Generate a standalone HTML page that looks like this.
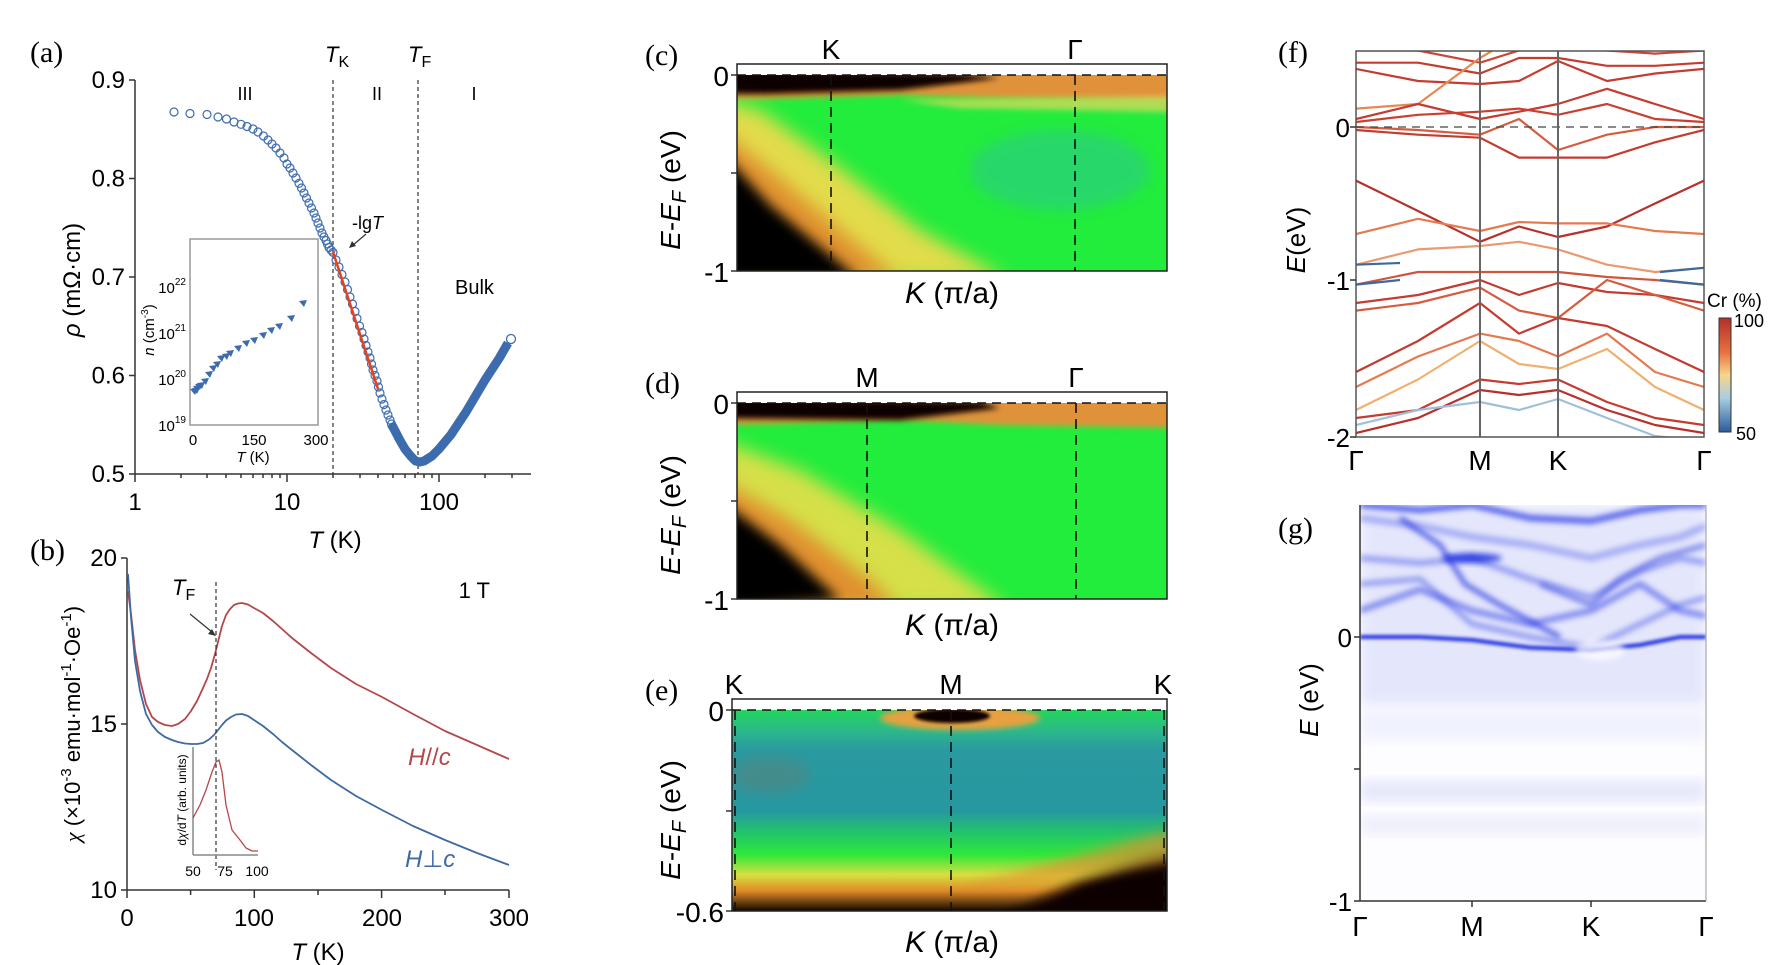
<!DOCTYPE html>
<html><head><meta charset="utf-8"><style>
html,body{margin:0;padding:0;background:#fff}
svg{display:block;font-family:"Liberation Sans",sans-serif}
.lab{font-family:"Liberation Serif",serif;font-size:30px}
.ax line{stroke:#333;stroke-width:1.5}
.bd polyline{fill:none;stroke-width:2.2;stroke-linejoin:round}
.gb polyline{fill:none;stroke-linejoin:round}
</style></head><body>
<svg width="1772" height="965" viewBox="0 0 1772 965" xmlns="http://www.w3.org/2000/svg">
<defs>
<filter id="b9" x="-20%" y="-20%" width="140%" height="140%"><feGaussianBlur stdDeviation="9"/></filter>
<filter id="b6" x="-20%" y="-20%" width="140%" height="140%"><feGaussianBlur stdDeviation="6"/></filter>
<filter id="b3" x="-10%" y="-50%" width="120%" height="200%"><feGaussianBlur stdDeviation="3"/></filter>
<filter id="b2" x="-10%" y="-50%" width="120%" height="200%"><feGaussianBlur stdDeviation="1.6"/></filter>
<clipPath id="cc"><rect x="737" y="75" width="430" height="196"/></clipPath>
<clipPath id="cd"><rect x="737" y="403" width="430" height="196"/></clipPath>
<clipPath id="ce"><rect x="732" y="710" width="435" height="201"/></clipPath>
<clipPath id="cf"><rect x="1356" y="51" width="348" height="386"/></clipPath>
<clipPath id="cg"><rect x="1360" y="505" width="346" height="396"/></clipPath>
<linearGradient id="cb" x1="0" y1="0" x2="0" y2="1">
<stop offset="0" stop-color="#b2302a"/><stop offset="0.3" stop-color="#e8703f"/><stop offset="0.5" stop-color="#f6d68a"/><stop offset="0.7" stop-color="#a8cfe2"/><stop offset="1" stop-color="#2c5a9a"/></linearGradient>
<linearGradient id="eg" x1="0" y1="0" x2="0" y2="1">
<stop offset="0" stop-color="#22d65a"/><stop offset="0.1" stop-color="#2bb98a"/><stop offset="0.2" stop-color="#2a9aa0"/><stop offset="0.5" stop-color="#2797a0"/><stop offset="0.6" stop-color="#22c070"/><stop offset="0.72" stop-color="#2ee83a"/><stop offset="0.82" stop-color="#d8e040"/><stop offset="0.9" stop-color="#e08a28"/><stop offset="1" stop-color="#100800"/></linearGradient>
<marker id="mc" markerWidth="12" markerHeight="12" refX="6" refY="6" markerUnits="userSpaceOnUse"><circle cx="6" cy="6" r="4" fill="none" stroke="#3d6cae" stroke-width="1.2"/></marker>
</defs>

<!-- ================= panel a ================= -->
<text x="30" y="62" class="lab">(a)</text>
<g class="ax">
<line x1="135" y1="80" x2="135" y2="474"/><line x1="135" y1="474" x2="531" y2="474"/>
<line x1="129" y1="474" x2="135" y2="474"/><line x1="129" y1="375.5" x2="135" y2="375.5"/><line x1="129" y1="277" x2="135" y2="277"/><line x1="129" y1="178.5" x2="135" y2="178.5"/><line x1="129" y1="80" x2="135" y2="80"/>
<line x1="135" y1="474" x2="135" y2="482"/><line x1="181" y1="474" x2="181" y2="478"/><line x1="207" y1="474" x2="207" y2="478"/><line x1="226" y1="474" x2="226" y2="478"/><line x1="241" y1="474" x2="241" y2="478"/><line x1="253" y1="474" x2="253" y2="478"/><line x1="263" y1="474" x2="263" y2="478"/><line x1="272" y1="474" x2="272" y2="478"/><line x1="280" y1="474" x2="280" y2="478"/>
<line x1="287" y1="474" x2="287" y2="482"/><line x1="333" y1="474" x2="333" y2="478"/><line x1="360" y1="474" x2="360" y2="478"/><line x1="378" y1="474" x2="378" y2="478"/><line x1="393" y1="474" x2="393" y2="478"/><line x1="405" y1="474" x2="405" y2="478"/><line x1="415" y1="474" x2="415" y2="478"/><line x1="424" y1="474" x2="424" y2="478"/><line x1="432" y1="474" x2="432" y2="478"/>
<line x1="439" y1="474" x2="439" y2="482"/><line x1="485" y1="474" x2="485" y2="478"/><line x1="512" y1="474" x2="512" y2="478"/>
</g>
<g font-size="24" text-anchor="end">
<text x="125" y="482">0.5</text><text x="125" y="383.5">0.6</text><text x="125" y="285">0.7</text><text x="125" y="186.5">0.8</text><text x="125" y="88">0.9</text></g>
<g font-size="24" text-anchor="middle"><text x="135" y="510">1</text><text x="287" y="510">10</text><text x="439" y="510">100</text>
<text x="335" y="548"><tspan font-style="italic">T</tspan> (K)</text>
<text x="80" y="280" transform="rotate(-90 80 280)"><tspan font-style="italic">ρ</tspan> (mΩ·cm)</text></g>
<line x1="333" y1="80" x2="333" y2="474" stroke="#333" stroke-width="1.2" stroke-dasharray="4,3"/>
<line x1="418" y1="80" x2="418" y2="474" stroke="#333" stroke-width="1.2" stroke-dasharray="4,3"/>
<text x="325" y="62" font-size="22"><tspan font-style="italic">T</tspan><tspan font-size="16" dy="5">K</tspan></text>
<text x="408" y="62" font-size="22"><tspan font-style="italic">T</tspan><tspan font-size="16" dy="5">F</tspan></text>
<g font-size="18" text-anchor="middle"><text x="245" y="100">III</text><text x="377" y="100">II</text><text x="474" y="100">I</text></g>
<text x="455" y="294" font-size="20">Bulk</text>
<polyline fill="none" stroke="none" marker-start="url(#mc)" marker-mid="url(#mc)" marker-end="url(#mc)" points="174,112 190,113.5 207,114.5 218,117 226.5,119 234,122 241,124.3 247,126.5 253,129 258,132 263.5,136 268,140 272,144 276,148 280,153 284,158 287,164 290,168 293,173 296,178 299,183.4 301.5,188 304,193 306.5,198 309,203 311.5,208 314,213 316,218 318,223 320,228 322,233 324,237 326,240.5 327.5,244 329,247.5 331,250 333,252.4 336,260 339,267 342,274.5 345,282 347.5,289.5 350,297 352.5,304 355,311.5 357,318.5 359.5,326 362,332.5 364,339 366,345.5 368,352 370,358 371.5,364 373,370 375,375.5 377,381 378.5,387 380,393 382,399 384,404.5 386,410 388,415 390,420 391.5,424 393,427"/>
<polyline fill="none" stroke="#3d6cae" stroke-width="9" stroke-linejoin="round" points="391,424 393,427 399.5,439.5 405,449 410.6,456 415.5,461 420,462 424,461 432,456 439,449 451,434.6 466,412 485,380 499.5,357.8 508,343"/>
<circle cx="511" cy="339" r="4.5" fill="#fff" stroke="#3d6cae" stroke-width="1.3"/>
<line x1="333" y1="252" x2="378" y2="389" stroke="#e8401c" stroke-width="2.5"/>
<text x="352" y="229" font-size="18">-lg<tspan font-style="italic">T</tspan></text>
<line x1="366" y1="234" x2="352" y2="246" stroke="#333" stroke-width="1.2"/><path d="M349,248 l3,-7 l4,5z" fill="#333"/>
<!-- inset a -->
<rect x="190" y="239" width="128" height="186" fill="#fff" stroke="#999" stroke-width="1.5"/>
<g font-size="15" text-anchor="end">
<text x="186" y="431">10<tspan font-size="10" dy="-8">19</tspan></text>
<text x="186" y="385">10<tspan font-size="10" dy="-8">20</tspan></text>
<text x="186" y="339">10<tspan font-size="10" dy="-8">21</tspan></text>
<text x="186" y="293">10<tspan font-size="10" dy="-8">22</tspan></text></g>
<g font-size="15" text-anchor="middle"><text x="193" y="445">0</text><text x="254" y="445">150</text><text x="316" y="445">300</text>
<text x="253" y="462"><tspan font-style="italic">T</tspan> (K)</text>
<text x="154" y="330" transform="rotate(-90 154 330)"><tspan font-style="italic">n</tspan> (cm<tspan font-size="10" dy="-6">-3</tspan><tspan dy="6">)</tspan></text></g>
<g fill="#3d6cae">
<path d="M190,389 l8,-1 l-3,7z"/><path d="M192,388 l8,-1 l-3,7z"/><path d="M193,386 l8,-1 l-3,7z"/><path d="M195,384 l8,-1 l-3,7z"/><path d="M197,383 l8,-1 l-3,7z"/><path d="M201,379 l8,-1 l-3,7z"/><path d="M205,372 l8,-1 l-3,7z"/><path d="M209,366 l8,-1 l-3,7z"/><path d="M213,362 l8,-1 l-3,7z"/><path d="M217,356 l8,-1 l-3,7z"/><path d="M222,354 l8,-1 l-3,7z"/><path d="M226,351 l8,-1 l-3,7z"/><path d="M234,346 l8,-1 l-3,7z"/><path d="M242,341 l8,-1 l-3,7z"/><path d="M250,338 l8,-1 l-3,7z"/><path d="M259,333 l8,-1 l-3,7z"/><path d="M267,328 l8,-1 l-3,7z"/><path d="M275,324 l8,-1 l-3,7z"/><path d="M287,316 l8,-1 l-3,7z"/><path d="M299,301 l8,-1 l-3,7z"/></g>

<!-- ================= panel b ================= -->
<text x="30" y="560" class="lab">(b)</text>
<g class="ax">
<line x1="127" y1="558" x2="127" y2="890"/><line x1="127" y1="890" x2="509" y2="890"/>
<line x1="121" y1="890" x2="127" y2="890"/><line x1="121" y1="724" x2="127" y2="724"/><line x1="121" y1="558" x2="127" y2="558"/>
<line x1="127" y1="890" x2="127" y2="898"/><line x1="190.6" y1="890" x2="190.6" y2="895"/><line x1="254.3" y1="890" x2="254.3" y2="898"/><line x1="318" y1="890" x2="318" y2="895"/><line x1="381.6" y1="890" x2="381.6" y2="898"/><line x1="445" y1="890" x2="445" y2="895"/><line x1="509" y1="890" x2="509" y2="898"/>
</g>
<g font-size="24"><g text-anchor="end"><text x="117" y="898">10</text><text x="117" y="732">15</text><text x="117" y="566">20</text></g>
<g text-anchor="middle"><text x="127" y="926">0</text><text x="254" y="926">100</text><text x="382" y="926">200</text><text x="509" y="926">300</text>
<text x="318" y="960"><tspan font-style="italic">T</tspan> (K)</text></g></g>
<text x="80" y="724" font-size="22" text-anchor="middle" transform="rotate(-90 80 724)"><tspan font-style="italic" font-family="Liberation Serif">χ</tspan> (×10<tspan font-size="15" dy="-9">-3</tspan><tspan dy="9"> emu·mol</tspan><tspan font-size="15" dy="-9">-1</tspan><tspan dy="9">·Oe</tspan><tspan font-size="15" dy="-9">-1</tspan><tspan dy="9">)</tspan></text>
<polyline fill="none" stroke="#b5474a" stroke-width="1.8" stroke-linejoin="round" points="128,591 131,614 135,650 140,680 146,704 152,717 158,722 165,725 172,726 178,724 185,719 191,711 197,701 203,688 207,679 211,668 215,654 219,638 222,626 226,615 230,609 234,605 238,603.5 242,603 248,604.5 254,608 263,613 273,621 282,629 292,638 311,653 331,668 356,684 382,697 413,714 445,731 477,745 509,759"/>
<polyline fill="none" stroke="#3e6aa3" stroke-width="1.8" stroke-linejoin="round" points="128,574 131,617 135,661 140,691 146,714 152,725 158,732 165,737 172,740 178,742 185,743.5 191,744 197,744 203,743 209,739.5 214,735 218,730 222,725 226,720.5 231,717 236,714.5 242,714 248,716 254,720 263,726 273,734 282,742 292,750 311,765 331,780 356,796 382,810 413,826 445,840 477,853 509,865"/>
<line x1="216" y1="582" x2="216" y2="870" stroke="#333" stroke-width="1.2" stroke-dasharray="4,3"/>
<text x="172" y="595" font-size="22"><tspan font-style="italic">T</tspan><tspan font-size="16" dy="5">F</tspan></text>
<line x1="190" y1="614" x2="212" y2="632" stroke="#333" stroke-width="1.2"/><path d="M216,636 l-8,-2 l4,-5z" fill="#333"/>
<text x="490" y="598" font-size="22" text-anchor="end">1 T</text>
<text x="408" y="765" font-size="24" fill="#b5474a"><tspan font-style="italic">H</tspan>//<tspan font-style="italic">c</tspan></text>
<text x="405" y="867" font-size="24" fill="#3e6aa3"><tspan font-style="italic">H</tspan>⊥<tspan font-style="italic">c</tspan></text>
<line x1="193" y1="747" x2="193" y2="855" stroke="#888" stroke-width="1.5"/><line x1="193" y1="855" x2="258" y2="855" stroke="#888" stroke-width="1.5"/>
<g font-size="14" text-anchor="middle"><text x="193" y="876">50</text><text x="225" y="876">75</text><text x="257" y="876">100</text></g>
<text x="186" y="800" font-size="12" text-anchor="middle" transform="rotate(-90 186 800)">d<tspan font-style="italic">χ</tspan>/d<tspan font-style="italic">T</tspan> (arb. units)</text>
<polyline fill="none" stroke="#b5474a" stroke-width="1.3" points="193,818 200,805 206,790 212,772 216,762 219,760 222,772 226,805 232,830 240,840 246,848 252,851 258,851"/>

<!-- ================= panel c ================= -->
<g clip-path="url(#cc)">
<rect x="737" y="75" width="430" height="196" fill="#22ec3c"/>
<ellipse cx="1060" cy="170" rx="90" ry="40" fill="#2fc496" opacity="0.5" filter="url(#b6)"/>
<path d="M720,70 L1180,70 L1180,100 L1000,98 L900,95 L720,100Z" fill="#e0923a" filter="url(#b3)"/>
<path d="M1170,96 L1170,112 L960,108 L900,100Z" fill="#e8d860" opacity="0.7" filter="url(#b3)"/>
<path d="M720,70 L960,74 L1000,78 L900,90 L720,95Z" fill="#080400" filter="url(#b3)"/>
<path d="M720,100 L760,110 L830,160 L920,230 L1010,280 L720,280Z" fill="#e2dc4c" filter="url(#b9)"/>
<path d="M720,130 L770,170 L840,230 L900,280 L720,280Z" fill="#e0902e" filter="url(#b9)"/>
<path d="M720,150 L770,205 L830,255 L860,280 L720,280Z" fill="#060300" filter="url(#b6)"/>
</g>
<rect x="737" y="64" width="430" height="207" fill="none" stroke="#222" stroke-width="1.5"/>
<line x1="737" y1="75" x2="1167" y2="75" stroke="#111" stroke-width="1.6" stroke-dasharray="9,6"/>
<line x1="831" y1="75" x2="831" y2="271" stroke="#111" stroke-width="1.6" stroke-dasharray="10,6"/>
<line x1="1075" y1="75" x2="1075" y2="271" stroke="#111" stroke-width="1.6" stroke-dasharray="10,6"/>
<g font-size="28" text-anchor="middle"><text x="831" y="59">K</text><text x="1075" y="59">Γ</text></g>
<g class="ax"><line x1="731" y1="75" x2="737" y2="75"/><line x1="731" y1="173" x2="737" y2="173"/><line x1="731" y1="271" x2="737" y2="271"/></g>
<g font-size="28" text-anchor="end"><text x="729" y="86">0</text><text x="729" y="282">-1</text></g>
<text x="952" y="303" font-size="30" text-anchor="middle"><tspan font-style="italic">K</tspan> (π/a)</text>
<text x="680" y="190" font-size="28" text-anchor="middle" transform="rotate(-90 680 190)"><tspan font-style="italic">E</tspan>-<tspan font-style="italic">E</tspan><tspan font-size="20" dy="6" font-style="italic">F</tspan><tspan dy="-6"> (eV)</tspan></text>
<text x="645" y="65" class="lab" font-size="28">(c)</text>

<!-- ================= panel d ================= -->
<g clip-path="url(#cd)">
<rect x="737" y="403" width="430" height="196" fill="#22ec3c"/>
<path d="M720,398 L1180,398 L1180,428 L1000,425 L900,420 L720,425Z" fill="#e0923a" filter="url(#b3)"/>
<path d="M720,398 L980,402 L1000,408 L900,420 L720,418Z" fill="#080400" filter="url(#b3)"/>
<path d="M720,440 L800,470 L900,530 L1010,610 L720,610Z" fill="#d6e04a" filter="url(#b9)"/>
<path d="M720,480 L790,520 L870,580 L900,610 L720,610Z" fill="#e0902e" filter="url(#b9)"/>
<path d="M720,500 L780,545 L840,600 L720,610Z" fill="#060300" filter="url(#b6)"/>
</g>
<rect x="737" y="392" width="430" height="207" fill="none" stroke="#222" stroke-width="1.5"/>
<line x1="737" y1="403" x2="1167" y2="403" stroke="#111" stroke-width="1.6" stroke-dasharray="9,6"/>
<line x1="867" y1="403" x2="867" y2="599" stroke="#111" stroke-width="1.6" stroke-dasharray="10,6"/>
<line x1="1076" y1="403" x2="1076" y2="599" stroke="#111" stroke-width="1.6" stroke-dasharray="10,6"/>
<g font-size="28" text-anchor="middle"><text x="867" y="387">M</text><text x="1076" y="387">Γ</text></g>
<g class="ax"><line x1="731" y1="403" x2="737" y2="403"/><line x1="731" y1="501" x2="737" y2="501"/><line x1="731" y1="599" x2="737" y2="599"/></g>
<g font-size="28" text-anchor="end"><text x="729" y="414">0</text><text x="729" y="610">-1</text></g>
<text x="952" y="635" font-size="30" text-anchor="middle"><tspan font-style="italic">K</tspan> (π/a)</text>
<text x="680" y="515" font-size="28" text-anchor="middle" transform="rotate(-90 680 515)"><tspan font-style="italic">E</tspan>-<tspan font-style="italic">E</tspan><tspan font-size="20" dy="6" font-style="italic">F</tspan><tspan dy="-6"> (eV)</tspan></text>
<text x="645" y="393" class="lab" font-size="28">(d)</text>

<!-- ================= panel e ================= -->
<g clip-path="url(#ce)">
<rect x="732" y="710" width="435" height="201" fill="url(#eg)"/>
<path d="M1000,920 L1080,880 L1140,860 L1180,850 L1180,920Z" fill="#080400" filter="url(#b6)"/>
<path d="M950,890 L1060,860 L1150,835 L1180,830 L1180,860 L1060,880Z" fill="#e09030" opacity="0.7" filter="url(#b6)"/>
<ellipse cx="960" cy="718" rx="80" ry="12" fill="#e8a040" filter="url(#b3)"/>
<ellipse cx="952" cy="716" rx="38" ry="7" fill="#0a0500" filter="url(#b2)"/>
<ellipse cx="770" cy="775" rx="40" ry="18" fill="#6a7a70" opacity="0.4" filter="url(#b6)"/>
</g>
<rect x="732" y="699" width="435" height="212" fill="none" stroke="#222" stroke-width="1.5"/>
<line x1="732" y1="710" x2="1167" y2="710" stroke="#111" stroke-width="1.6" stroke-dasharray="9,6"/>
<line x1="735" y1="710" x2="735" y2="911" stroke="#111" stroke-width="1.6" stroke-dasharray="10,6"/>
<line x1="951" y1="710" x2="951" y2="911" stroke="#111" stroke-width="1.6" stroke-dasharray="10,6"/>
<line x1="1164" y1="710" x2="1164" y2="911" stroke="#111" stroke-width="1.6" stroke-dasharray="10,6"/>
<g font-size="28" text-anchor="middle"><text x="734" y="694">K</text><text x="951" y="694">M</text><text x="1163" y="694">K</text></g>
<g class="ax"><line x1="726" y1="710" x2="732" y2="710"/><line x1="726" y1="811" x2="732" y2="811"/><line x1="726" y1="911" x2="732" y2="911"/></g>
<g font-size="28" text-anchor="end"><text x="724" y="721">0</text><text x="724" y="922">-0.6</text></g>
<text x="952" y="952" font-size="30" text-anchor="middle"><tspan font-style="italic">K</tspan> (π/a)</text>
<text x="680" y="820" font-size="28" text-anchor="middle" transform="rotate(-90 680 820)"><tspan font-style="italic">E</tspan>-<tspan font-style="italic">E</tspan><tspan font-size="20" dy="6" font-style="italic">F</tspan><tspan dy="-6"> (eV)</tspan></text>
<text x="645" y="700" class="lab" font-size="28">(e)</text>

<!-- ================= panel f ================= -->
<text x="1278" y="62" class="lab" font-size="28">(f)</text>
<g clip-path="url(#cf)" class="bd">
<polyline stroke="#c9463a" points="1356,50.5 1418,50.5 1480,62.7 1519,50.5 1558,47 1607,50.5 1655,53.6 1704,50.5"/>
<polyline stroke="#c43b30" points="1356,62.7 1418,62.7 1480,73.5 1519,58 1558,58 1607,65.8 1655,65.8 1704,62.7"/>
<polyline stroke="#c43b30" points="1356,68.9 1418,81 1480,84 1519,81 1558,61 1607,81 1655,73.5 1704,68.9"/>
<polyline stroke="#e88850" points="1356,108.6 1418,104 1480,58 1519,35 1558,35"/>
<polyline stroke="#c43b30" points="1356,119 1418,104 1480,119 1519,111.7 1558,104 1607,88.8 1655,104 1704,119"/>
<polyline stroke="#c84030" points="1356,122 1418,114.8 1480,111.7 1519,108.6 1558,114.8 1607,104 1655,119 1704,122"/>
<polyline stroke="#d65c40" points="1356,127 1418,130 1480,134.7 1519,119 1558,150 1607,134.7 1655,127 1704,127"/>
<polyline stroke="#c43b30" points="1356,130 1418,134.7 1480,137.7 1519,157.6 1558,157.6 1607,157.6 1655,142.3 1704,130"/>
<polyline stroke="#b8302a" points="1356,180.6 1418,211 1480,241.8 1519,226.5 1558,237 1607,226.5 1655,203.5 1704,180.6"/>
<polyline stroke="#e57a50" points="1356,234 1418,218.8 1480,231 1519,222 1558,223.4 1607,223.4 1655,231 1704,234"/>
<polyline stroke="#e89a70" points="1356,264.7 1418,249.4 1480,246 1519,241.8 1558,249.4 1607,264.7 1655,272 1704,267.8"/>
<polyline stroke="#d0553e" points="1356,284.6 1418,272 1480,272 1519,272 1558,272 1607,277 1655,280 1704,284.6"/>
<polyline stroke="#c43b30" points="1356,303 1418,295 1480,280 1519,295 1558,283 1607,292 1655,295 1704,303"/>
<polyline stroke="#d65c40" points="1356,310.6 1418,303 1480,287.6 1519,310.6 1558,318 1607,280 1655,295 1704,310.6"/>
<polyline stroke="#c43b30" points="1356,372 1418,341 1480,303 1519,333.6 1558,318 1607,326 1655,349 1704,372"/>
<polyline stroke="#e57a50" points="1356,387 1418,356.5 1480,333.6 1519,341 1558,356.5 1607,333.6 1655,372 1704,387"/>
<polyline stroke="#f0b070" points="1356,410 1418,379.5 1480,341 1519,364 1558,369 1607,349 1655,387 1704,410"/>
<polyline stroke="#c43b30" points="1356,418 1418,410 1480,379.5 1519,384 1558,379.5 1607,402 1655,418 1704,425"/>
<polyline stroke="#b8302a" points="1356,433 1418,418 1480,390 1519,395 1558,390 1607,410 1655,425 1704,433"/>
<polyline stroke="#9fc0d8" points="1356,425 1418,410 1480,402 1519,410 1558,399 1607,418 1655,436 1704,441"/>
<polyline stroke="#3a6aa0" points="1356,264.7 1400,263"/><polyline stroke="#3a6aa0" points="1660,272 1704,267.8"/>
<polyline stroke="#3a6aa0" points="1356,284.6 1400,280"/><polyline stroke="#3a6aa0" points="1660,280 1704,284.6"/>
</g>
<line x1="1356" y1="127" x2="1704" y2="127" stroke="#444" stroke-width="1.2" stroke-dasharray="8,6"/>
<line x1="1480" y1="51" x2="1480" y2="437" stroke="#666" stroke-width="2"/>
<line x1="1558" y1="51" x2="1558" y2="437" stroke="#666" stroke-width="2"/>
<rect x="1356" y="51" width="348" height="386" fill="none" stroke="#555" stroke-width="1.5"/>
<g class="ax"><line x1="1350" y1="127" x2="1356" y2="127"/><line x1="1350" y1="280" x2="1356" y2="280"/><line x1="1350" y1="437" x2="1356" y2="437"/></g>
<g font-size="26" text-anchor="end"><text x="1350" y="137">0</text><text x="1350" y="290">-1</text><text x="1350" y="447">-2</text></g>
<g font-size="28" text-anchor="middle"><text x="1356" y="470">Γ</text><text x="1480" y="470">M</text><text x="1558" y="470">K</text><text x="1704" y="470">Γ</text></g>
<text x="1305" y="240" font-size="26" text-anchor="middle" transform="rotate(-90 1305 240)"><tspan font-style="italic">E</tspan>(eV)</text>
<rect x="1719" y="318" width="12" height="114" fill="url(#cb)" stroke="#333" stroke-width="1"/>
<text x="1707" y="307" font-size="19">Cr (%)</text><text x="1734" y="327" font-size="18">100</text><text x="1736" y="440" font-size="18">50</text>

<!-- ================= panel g ================= -->
<text x="1278" y="538" class="lab" font-size="28">(g)</text>
<g clip-path="url(#cg)" class="gb">
<rect x="1360" y="505" width="346" height="396" fill="#fdfdff"/>
<rect x="1360" y="505" width="346" height="200" fill="#d4d8fa" opacity="0.6" filter="url(#b6)"/>
<rect x="1360" y="710" width="346" height="30" fill="#e4e6fb" opacity="0.5" filter="url(#b6)"/>
<rect x="1360" y="780" width="346" height="22" fill="#e6e8fb" filter="url(#b6)"/>
<rect x="1360" y="815" width="346" height="20" fill="#eeeffc" filter="url(#b6)"/>
<polyline stroke="#2030e0" stroke-width="4" filter="url(#b2)" points="1360,637 1420,637 1472,640 1530,647.6 1591,650 1640,645 1680,637 1706,637"/>
<polyline stroke="#3a4ae8" stroke-width="6" opacity="0.6" filter="url(#b3)" points="1360,610.6 1420,589.5 1472,610.6 1530,624 1591,610.6 1640,584 1680,610.6 1706,616"/>
<polyline stroke="#4656ea" stroke-width="6" opacity="0.5" filter="url(#b3)" points="1360,558 1420,563 1472,558 1530,579 1591,597.4 1640,571 1680,558 1706,563"/>
<polyline stroke="#5a68ec" stroke-width="7" opacity="0.45" filter="url(#b3)" points="1360,518 1420,526 1472,537 1530,545 1591,558 1640,545 1680,537 1706,526"/>
<polyline stroke="#2a3ae6" stroke-width="6" opacity="0.8" filter="url(#b3)" points="1360,505 1420,510 1472,505 1530,518 1591,521 1640,510 1680,505 1706,505"/>
<polyline stroke="#3545e6" stroke-width="5" opacity="0.5" filter="url(#b3)" points="1360,584 1420,579 1472,624 1530,637 1591,647.6 1640,624 1680,605 1706,597.4"/>
<ellipse cx="1472" cy="558" rx="30" ry="5" fill="#1020e0" opacity="0.75" filter="url(#b3)"/>
<polyline stroke="#2030e0" stroke-width="5" opacity="0.7" filter="url(#b3)" points="1400,518 1440,545 1465,584 1500,605 1560,637"/>
<polyline stroke="#3040e0" stroke-width="5" opacity="0.6" filter="url(#b3)" points="1540,584 1591,605 1620,579 1660,558 1706,545"/>
<ellipse cx="1600" cy="650" rx="25" ry="10" fill="#fff" opacity="0.7" filter="url(#b3)"/>
</g>
<line x1="1360" y1="505" x2="1360" y2="901" stroke="#333" stroke-width="1.5"/>
<line x1="1360" y1="901" x2="1706" y2="901" stroke="#333" stroke-width="1.5"/>
<line x1="1706" y1="505" x2="1706" y2="901" stroke="#999" stroke-width="1"/>
<g class="ax"><line x1="1354" y1="637" x2="1360" y2="637"/><line x1="1354" y1="769" x2="1360" y2="769"/><line x1="1354" y1="901" x2="1360" y2="901"/><line x1="1472" y1="901" x2="1472" y2="907"/><line x1="1591" y1="901" x2="1591" y2="907"/></g>
<g font-size="26" text-anchor="end"><text x="1352" y="647">0</text><text x="1352" y="911">-1</text></g>
<g font-size="28" text-anchor="middle"><text x="1360" y="936">Γ</text><text x="1472" y="936">M</text><text x="1591" y="936">K</text><text x="1706" y="936">Γ</text></g>
<text x="1318" y="700" font-size="26" text-anchor="middle" transform="rotate(-90 1318 700)"><tspan font-style="italic">E</tspan> (eV)</text>
</svg>
</body></html>
